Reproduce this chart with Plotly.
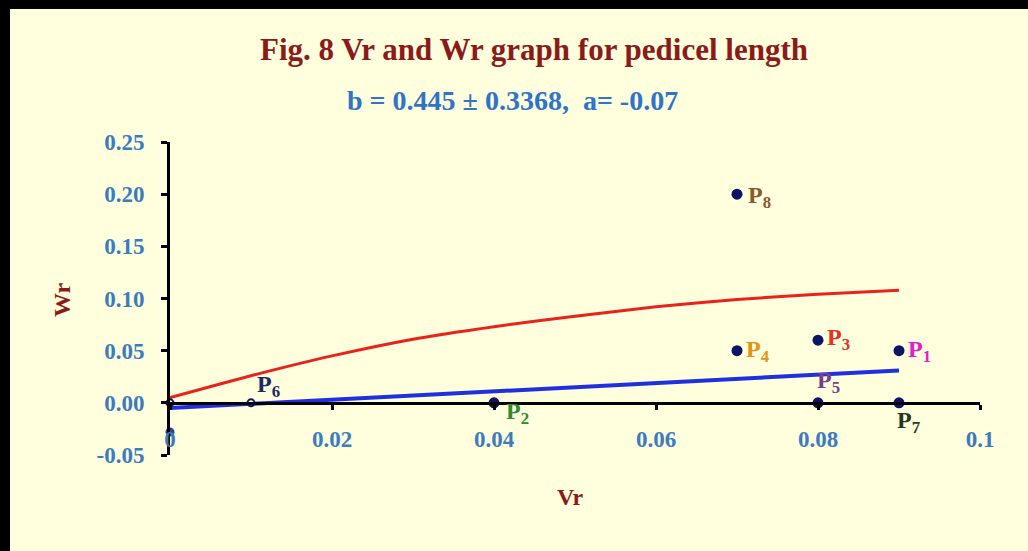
import plotly.graph_objects as go

# ---- data ----
parent_names = ["P1", "P2", "P3", "P4", "P5", "P6", "P7", "P8"]
parent_vr = [0.09, 0.04, 0.08, 0.07, 0.08, 0.01, 0.09, 0.07]
parent_wr = [0.05, 0.00, 0.06, 0.05, 0.00, 0.00, 0.00, 0.20]
parent_label_colors = ["#E020C8", "#2E8B2E", "#E83020", "#E89010", "#7A3E8E",
                       "#1A2A6A", "#1F3A1F", "#8B5A2B"]

limit_vr = [0.00, 0.01, 0.02, 0.03, 0.04, 0.05, 0.06, 0.07, 0.08, 0.09]
limit_wr = [0.005, 0.026, 0.045, 0.061, 0.073, 0.083, 0.092, 0.099, 0.104, 0.108]

reg_vr = [0.00, 0.09]
reg_wr = [-0.005, 0.031]

origin_vr = [0.0]
origin_wr = [0.0]
intercept_vr = [0.0]
intercept_wr = [-0.028]

x_ticks = [0, 0.02, 0.04, 0.06, 0.08, 0.1]
x_ticklabels = ["0", "0.02", "0.04", "0.06", "0.08", "0.1"]
y_ticks = [-0.05, 0.0, 0.05, 0.10, 0.15, 0.20, 0.25]
y_ticklabels = ["-0.05", "0.00", "0.05", "0.10", "0.15", "0.20", "0.25"]

title_text = "Fig. 8 Vr and Wr graph for pedicel length"
subtitle_text = "b = 0.445 ± 0.3368,  a= -0.07"

# ---- styling ----
BG = "#FFFFDD"
NAVY = "#0D1466"
FONT = "Liberation Serif"
TICK_BLUE = "#3B7BBF"
DARK_RED = "#8B1A1A"

# label offsets (px) for each parent label
label_xshift = [7, 10, 7, 7, 10, 4, -4, 9]
label_yshift = [0, -10, 1, 0, 21, 17, -19, -3]
label_xanchor = ["left", "left", "left", "left", "center", "left", "left", "left"]

fig = go.Figure()

fig.add_trace(go.Scatter(x=limit_vr, y=limit_wr, mode="lines",
                         line=dict(color="#E8231E", width=3, shape="spline", smoothing=0.6),
                         showlegend=False, hoverinfo="skip"))
fig.add_trace(go.Scatter(x=reg_vr, y=reg_wr, mode="lines",
                         line=dict(color="#2030E0", width=4),
                         showlegend=False, hoverinfo="skip"))
fig.add_trace(go.Scatter(x=intercept_vr, y=intercept_wr, mode="markers",
                         marker=dict(color="#2A4A8A", size=9),
                         showlegend=False, cliponaxis=False))

filled_x = [v for v, n in zip(parent_vr, parent_names) if n != "P6"]
filled_y = [w for w, n in zip(parent_wr, parent_names) if n != "P6"]
fig.add_trace(go.Scatter(x=filled_x, y=filled_y, mode="markers",
                         marker=dict(color=NAVY, size=11),
                         showlegend=False, cliponaxis=False))
open_x = origin_vr + [v for v, n in zip(parent_vr, parent_names) if n == "P6"]
open_y = origin_wr + [w for w, n in zip(parent_wr, parent_names) if n == "P6"]
fig.add_trace(go.Scatter(x=open_x, y=open_y, mode="markers",
                         marker=dict(color="white", size=7,
                                     line=dict(color=NAVY, width=2)),
                         showlegend=False, cliponaxis=False))

# plot area in pixels
W, H = 1028, 551
L, R, T, B = 170, 980, 142, 455
pw, ph = R - L, B - T


def px_to_paper(px, py):
    return (px - L) / pw, (B - py) / ph


annotations = []
for name, vx, wy, col, xs, ys, xa in zip(parent_names, parent_vr, parent_wr,
                                          parent_label_colors, label_xshift,
                                          label_yshift, label_xanchor):
    annotations.append(dict(x=vx, y=wy, xref="x", yref="y",
                            text=f"<b>{name[0]}<sub>{name[1:]}</sub></b>",
                            showarrow=False, xanchor=xa, yanchor="middle",
                            xshift=xs, yshift=ys,
                            font=dict(family=FONT, size=24, color=col)))

tx, ty = px_to_paper(534, 50)
annotations.append(dict(x=tx, y=ty, xref="paper", yref="paper", text=f"<b>{title_text}</b>",
                        showarrow=False, xanchor="center", yanchor="middle",
                        font=dict(family=FONT, size=31, color=DARK_RED)))
sx, sy = px_to_paper(512, 100)
annotations.append(dict(x=sx, y=sy, xref="paper", yref="paper", text=f"<b>{subtitle_text}</b>",
                        showarrow=False, xanchor="center", yanchor="middle",
                        font=dict(family=FONT, size=28, color="#2F74C8")))
wx, wy_ = px_to_paper(62, 300)
annotations.append(dict(x=wx, y=wy_, xref="paper", yref="paper", text="<b>Wr</b>",
                        showarrow=False, textangle=-90, xanchor="center", yanchor="middle",
                        font=dict(family=FONT, size=24, color=DARK_RED)))
vx_, vy_ = px_to_paper(570, 497)
annotations.append(dict(x=vx_, y=vy_, xref="paper", yref="paper", text="<b>Vr</b>",
                        showarrow=False, xanchor="center", yanchor="middle",
                        font=dict(family=FONT, size=24, color=DARK_RED)))

# black frame bands (top and left)
x0p, _ = px_to_paper(0, 0)
x1p, _ = px_to_paper(W, 0)
xl1, _ = px_to_paper(10, 0)
_, ytop0 = px_to_paper(0, 0)
_, ytop1 = px_to_paper(0, 9)
_, ybot = px_to_paper(0, H)
shapes = [
    dict(type="rect", xref="paper", yref="paper", x0=x0p, x1=x1p, y0=ytop1, y1=ytop0,
         fillcolor="black", line=dict(width=0), layer="above"),
    dict(type="rect", xref="paper", yref="paper", x0=x0p, x1=xl1, y0=ybot, y1=ytop0,
         fillcolor="black", line=dict(width=0), layer="above"),
]

y_range = [-0.05, 0.25]
fig.update_layout(
    width=W, height=H,
    margin=dict(l=L, r=W - R, t=T, b=H - B, pad=0),
    paper_bgcolor=BG, plot_bgcolor=BG,
    showlegend=False,
    annotations=annotations,
    shapes=shapes,
    xaxis=dict(range=[0, 0.1], tickvals=x_ticks, ticktext=x_ticklabels,
               anchor="free", position=(0 - y_range[0]) / (y_range[1] - y_range[0]),
               showgrid=False, zeroline=False, showline=True, linecolor="black",
               linewidth=3, ticks="outside", ticklen=5, tickwidth=3, tickcolor="black",
               ticklabelstandoff=10,
               tickfont=dict(family=FONT, size=23, color=TICK_BLUE, weight="bold")),
    yaxis=dict(range=y_range, tickvals=y_ticks, ticktext=y_ticklabels,
               showgrid=False, zeroline=False, showline=True, linecolor="black",
               linewidth=3, ticks="outside", ticklen=6, tickwidth=3, tickcolor="black",
               ticklabelstandoff=12,
               tickfont=dict(family=FONT, size=23, color=TICK_BLUE, weight="bold")),
)

fig.write_html("out.html",
               config={"displayModeBar": False},
               post_script="document.body.style.margin='0px';document.body.style.overflow='hidden';")
